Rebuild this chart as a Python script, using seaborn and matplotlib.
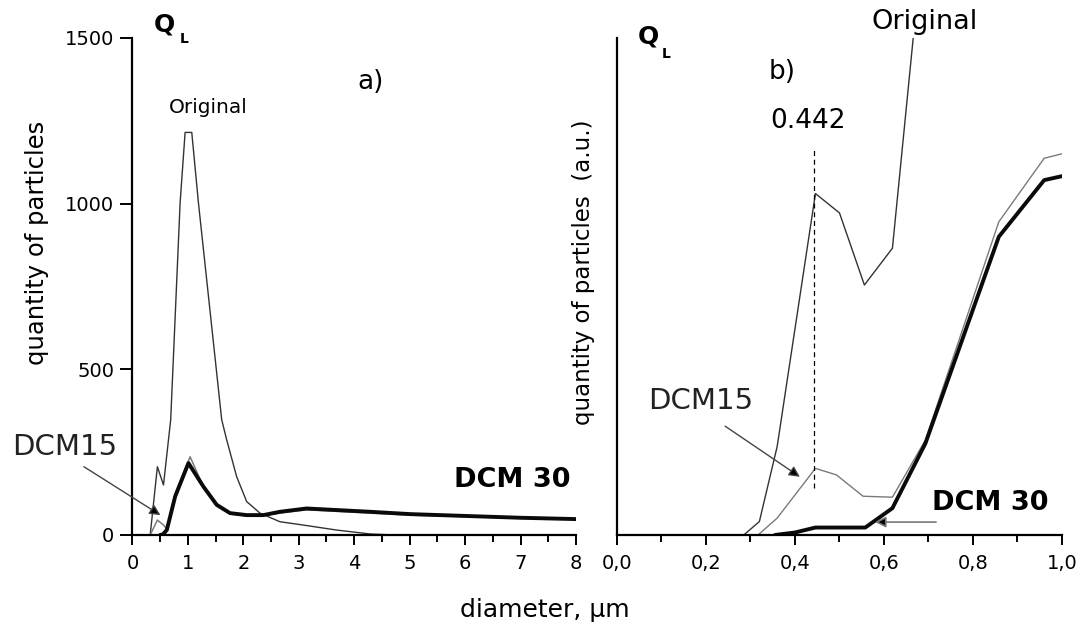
import matplotlib
matplotlib.use("Agg")
import matplotlib.pyplot as plt
import seaborn as sns
from matplotlib.ticker import FixedLocator, FuncFormatter

# ---- panel a): full size range, 0-8 um ----
orig_a_x = [0.32, 0.45, 0.56, 0.69, 0.86, 0.95, 1.07, 1.19, 1.61, 1.70, 1.88, 2.06, 2.30, 2.66, 3.08, 3.68, 4.29, 4.74]
orig_a_y = [0, 206, 151, 348, 1003, 1215, 1215, 1003, 348, 287, 176, 101, 66, 40, 30, 15, 3, 0]

dcm15_a_x = [0.32, 0.45, 0.56, 0.62, 0.77, 1.04, 1.28, 1.52, 1.76, 2.06, 2.36, 2.66, 3.14, 4.29, 5.01, 6.09, 7.0, 8.0]
dcm15_a_y = [0, 45, 30, 18, 125, 236, 146, 88, 64, 58, 58, 66, 76, 66, 60, 55, 50, 47]

dcm30_a_x = [0.50, 0.55, 0.62, 0.77, 1.01, 1.28, 1.52, 1.76, 2.06, 2.36, 2.66, 3.14, 4.29, 5.01, 6.09, 7.0, 8.0]
dcm30_a_y = [0, 2, 15, 116, 217, 146, 91, 66, 60, 60, 70, 80, 70, 63, 57, 52, 48]

# ---- panel b): sub-micron range, arbitrary units ----
orig_b_x = [0.285, 0.32, 0.36, 0.446, 0.50, 0.556, 0.619, 0.69]
orig_b_y = [0, 2.7, 17.8, 68.7, 64.8, 50.3, 57.7, 122]

dcm15_b_x = [0.317, 0.36, 0.446, 0.493, 0.553, 0.619, 0.693, 0.858, 0.96, 1.0]
dcm15_b_y = [0, 3.4, 13.4, 12.1, 7.8, 7.6, 19.1, 63.0, 75.8, 76.7]

dcm30_b_x = [0.355, 0.40, 0.446, 0.558, 0.619, 0.693, 0.858, 0.96, 1.0]
dcm30_b_y = [0, 0.5, 1.5, 1.5, 5.4, 18.4, 60.0, 71.4, 72.2]

peak_d = 0.442

a_xticks = [0, 1, 2, 3, 4, 5, 6, 7, 8]
a_yticks = [0, 500, 1000, 1500]
b_xticks = [0.0, 0.2, 0.4, 0.6, 0.8, 1.0]

sns.set_theme(style="white")
plt.rcParams["font.family"] = ["DejaVu Sans"]
plt.rcParams["text.color"] = "black"
plt.rcParams["axes.labelcolor"] = "black"
plt.rcParams["xtick.color"] = "black"
plt.rcParams["ytick.color"] = "black"

fig = plt.figure(figsize=(10.91, 6.32), dpi=100)
ax1 = fig.add_axes([0.1214, 0.1535, 0.4065, 0.7864])
ax2 = fig.add_axes([0.5655, 0.1535, 0.4079, 0.7864])

c_orig = "#333333"
c_d15 = "#7a7a7a"
c_d30 = "#0a0a0a"


def draw(ax, x, y, color, lw):
    sns.lineplot(x=x, y=y, ax=ax, color=color, linewidth=lw, sort=False,
                 estimator=None)


draw(ax1, orig_a_x, orig_a_y, c_orig, 1.0)
draw(ax1, dcm15_a_x, dcm15_a_y, c_d15, 1.1)
draw(ax1, dcm30_a_x, dcm30_a_y, c_d30, 2.8)

draw(ax2, orig_b_x, orig_b_y, c_orig, 1.0)
draw(ax2, dcm15_b_x, dcm15_b_y, c_d15, 1.0)
draw(ax2, dcm30_b_x, dcm30_b_y, c_d30, 2.8)

for ax in (ax1, ax2):
    for side in ("top", "right"):
        ax.spines[side].set_visible(False)
    for side in ("left", "bottom"):
        ax.spines[side].set_color("black")
        ax.spines[side].set_linewidth(1.6)
    ax.set_xlabel("")
    ax.set_ylabel("")
    ax.tick_params(axis="x", which="major", direction="out", length=7.2, width=1.4,
                   color="black", labelcolor="black", labelsize=14, pad=6.5, bottom=True)
    ax.tick_params(axis="x", which="minor", direction="out", length=4.7, width=1.4,
                   color="black", bottom=True)

ax1.set_xlim(0, 8)
ax1.set_ylim(0, 1500)
ax1.xaxis.set_major_locator(FixedLocator(a_xticks))
ax1.xaxis.set_minor_locator(FixedLocator([v + 0.5 for v in a_xticks[:-1]]))
ax1.yaxis.set_major_locator(FixedLocator(a_yticks))
ax1.tick_params(axis="y", which="major", direction="out", length=8.6, width=1.4,
                color="black", labelcolor="black", labelsize=14, pad=4.5, left=True)

ax2.set_xlim(0, 1.0)
ax2.set_ylim(0, 100)
ax2.xaxis.set_major_locator(FixedLocator(b_xticks))
ax2.xaxis.set_minor_locator(FixedLocator([0.1, 0.3, 0.5, 0.7, 0.9]))
ax2.xaxis.set_major_formatter(FuncFormatter(lambda v, p: f"{v:.1f}".replace(".", ",")))
ax2.set_yticks([])

# peak marker in panel b
ax2.vlines(peak_d, 9.5, 77.5, colors="black", linestyles=(0, (4, 3)), linewidth=0.9)
ax2.text(0.429, 83.3, f"{peak_d:.3f}", fontsize=19, ha="center", va="center")

# panel labels and Q_L
ax1.text(0.57, 1542, "Q", fontsize=18, fontweight="bold", ha="center", va="center", clip_on=False)
ax1.text(0.93, 1497, "L", fontsize=10, fontweight="bold", ha="center", va="center", clip_on=False)
ax1.text(4.29, 1367, "a)", fontsize=19, ha="center", va="center")
ax1.text(1.36, 1291, "Original", fontsize=14.5, ha="center", va="center")

ax2.text(0.0697, 100.2, "Q", fontsize=18, fontweight="bold", ha="center", va="center", clip_on=False)
ax2.text(0.110, 96.8, "L", fontsize=10, fontweight="bold", ha="center", va="center", clip_on=False)
ax2.text(0.371, 93.2, "b)", fontsize=19, ha="center", va="center")
ax2.text(0.692, 103.2, "Original", fontsize=19.5, ha="center", va="center", clip_on=False)

# series callouts
arrow_kw = dict(arrowstyle="-|>", ec="#444444", fc="black", lw=1.0, mutation_scale=16,
                shrinkA=0, shrinkB=0)
ax1.annotate("", xy=(0.505, 60), xytext=(-0.875, 206), arrowprops=arrow_kw,
             annotation_clip=False)
ax1.text(-1.22, 266, "DCM15", fontsize=21, color="#222222", ha="center", va="center",
         clip_on=False)
ax1.text(6.85, 166, "DCM 30", fontsize=19.5, fontweight="bold", ha="center", va="center")

ax2.annotate("", xy=(0.411, 11.7), xytext=(0.243, 21.9), arrowprops=arrow_kw)
ax2.text(0.189, 27.0, "DCM15", fontsize=21, color="#222222", ha="center", va="center")
ax2.annotate("", xy=(0.580, 2.6), xytext=(0.717, 2.6),
             arrowprops=dict(arrowstyle="-|>", ec="#777777", fc="black", lw=1.2,
                             mutation_scale=16, shrinkA=0, shrinkB=0))
ax2.text(0.838, 6.4, "DCM 30", fontsize=19.5, fontweight="bold", ha="center", va="center")

# axis titles
fig.text(0.0339, 0.6155, "quantity of particles", rotation=90, fontsize=17.5,
         ha="center", va="center")
fig.text(0.5344, 0.5696, "quantity of particles  (a.u.)", rotation=90, fontsize=16.5,
         ha="center", va="center")
fig.text(0.4995, 0.0348, "diameter, μm", fontsize=18, ha="center", va="center")

fig.savefig("out.png", dpi=100)
